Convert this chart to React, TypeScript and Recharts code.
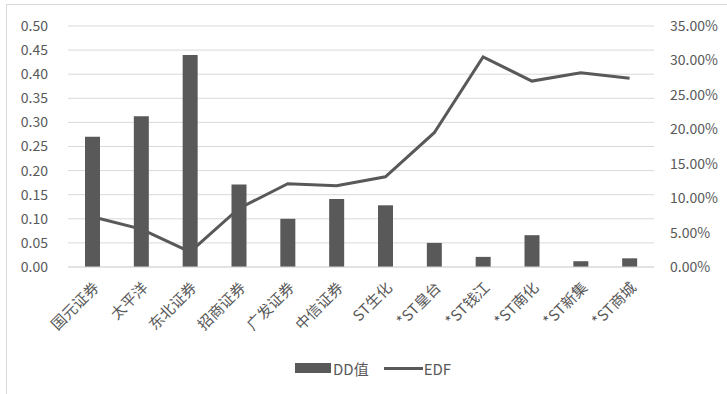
import { ComposedChart, Bar, Line, XAxis, YAxis, CartesianGrid } from 'recharts';

const names = ['国元证券', '太平洋', '东北证券', '招商证券', '广发证券', '中信证券', 'ST生化', '*ST皇台', '*ST钱江', '*ST南化', '*ST新集', '*ST商城'];
const ddValues = [0.27, 0.313, 0.44, 0.171, 0.1, 0.141, 0.128, 0.05, 0.021, 0.066, 0.012, 0.018];
const edfValues = [0.073, 0.055, 0.022, 0.085, 0.121, 0.118, 0.131, 0.195, 0.305, 0.27, 0.282, 0.274];
const leftTicks = [0, 0.05, 0.1, 0.15, 0.2, 0.25, 0.3, 0.35, 0.4, 0.45, 0.5];
const rightTicks = [0, 0.05, 0.1, 0.15, 0.2, 0.25, 0.3, 0.35];

const data = names.map((name, i) => ({ name, dd: ddValues[i], edf: edfValues[i] }));

const textColor = '#595959';
const seriesColor = '#595959';
const gridColor = '#d9d9d9';
const font = '"Noto Sans CJK SC", "Open Sans", sans-serif';

const CategoryTick = (props: any) => {
    const { x, y, payload } = props;
    return (
        <g transform={`translate(${x + 3},${y + 9})`}>
            <text
                transform="rotate(-45)"
                textAnchor="end"
                dominantBaseline="central"
                fill={textColor}
                fontSize={15}
                fontFamily={font}
            >
                {payload.value}
            </text>
        </g>
    );
};

const App = () => {
    return (
        <div style={{ position: 'fixed', left: 0, top: 0, width: 727, height: 394, background: '#fff', overflow: 'hidden' }}>
            <div style={{ position: 'absolute', left: 6, top: 4, width: 740, height: 400, border: `1px solid ${gridColor}` }} />
            <ComposedChart
                width={727}
                height={394}
                data={data}
                margin={{ top: 26, right: 0, bottom: 0, left: 0 }}
                style={{ position: 'absolute', left: 0, top: 0 }}
            >
                <CartesianGrid vertical={false} stroke={gridColor} strokeWidth={1} yAxisId="left" />
                <XAxis
                    dataKey="name"
                    interval={0}
                    axisLine={{ stroke: gridColor }}
                    tickLine={false}
                    tick={<CategoryTick />}
                    height={127}
                />
                <YAxis
                    yAxisId="left"
                    domain={[0, 0.5]}
                    ticks={leftTicks}
                    interval={0}
                    width={68}
                    axisLine={false}
                    tickLine={false}
                    tickSize={0}
                    tickMargin={20}
                    tickFormatter={(v: number) => v.toFixed(2)}
                    tick={{ fill: textColor, fontSize: 14, fontFamily: font }}
                />
                <YAxis
                    yAxisId="right"
                    orientation="right"
                    domain={[0, 0.35]}
                    ticks={rightTicks}
                    interval={0}
                    width={73}
                    axisLine={false}
                    tickLine={false}
                    tickSize={0}
                    tickMargin={16}
                    tickFormatter={(v: number) => (v * 100).toFixed(2) + '%'}
                    tick={{ fill: textColor, fontSize: 14, fontFamily: font }}
                />
                <Bar yAxisId="left" dataKey="dd" name="DD值" fill={seriesColor} barSize={15} isAnimationActive={false} />
                <Line
                    yAxisId="right"
                    type="linear"
                    dataKey="edf"
                    name="EDF"
                    stroke={seriesColor}
                    strokeWidth={3}
                    dot={false}
                    activeDot={false}
                    isAnimationActive={false}
                />
            </ComposedChart>
            <div style={{ position: 'absolute', left: 295, top: 357, height: 22, display: 'flex', alignItems: 'center', fontFamily: font, fontSize: 15, color: textColor }}>
                <span style={{ display: 'inline-block', width: 36, height: 10, background: seriesColor, marginRight: 2 }} />
                <span style={{ marginRight: 15 }}>DD值</span>
                <span style={{ display: 'inline-block', width: 39, height: 3, background: seriesColor, marginRight: 1 }} />
                <span>EDF</span>
            </div>
        </div>
    );
};

export default App;
